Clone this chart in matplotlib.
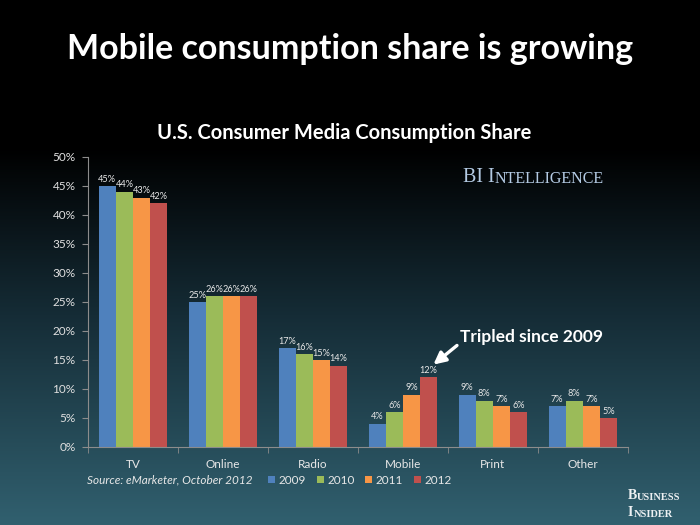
import matplotlib.pyplot as plt
import numpy as np
from matplotlib.colors import LinearSegmentedColormap

categories = ["TV", "Online", "Radio", "Mobile", "Print", "Other"]
years = ["2009", "2010", "2011", "2012"]
share_2009 = [45, 25, 17, 4, 9, 7]
share_2010 = [44, 26, 16, 6, 8, 8]
share_2011 = [43, 26, 15, 9, 7, 7]
share_2012 = [42, 26, 14, 12, 6, 5]
y_ticks = [0, 5, 10, 15, 20, 25, 30, 35, 40, 45, 50]

series = [share_2009, share_2010, share_2011, share_2012]
colors = ["#4f81bd", "#9bbb59", "#f79646", "#c0504d"]

plt.rcParams['font.family'] = ['Lato', 'DejaVu Sans']


def small_caps(owner, x, y, parts, color, weight='normal'):
    # fake small caps by chaining text pieces of two sizes
    prev = owner.text(x, y, parts[0][0], fontsize=parts[0][1], color=color,
                      family='Liberation Serif', fontweight=weight,
                      va='bottom', ha='left', transform=owner.transAxes)
    for txt, size in parts[1:]:
        prev = owner.annotate(txt, xy=(1, 0), xycoords=prev, fontsize=size,
                              color=color, family='Liberation Serif',
                              fontweight=weight, va='bottom', ha='left')
    return prev


fig = plt.figure(figsize=(7, 5.25), dpi=100)

# background gradient
bg = fig.add_axes([0, 0, 1, 1], zorder=-10)
bg.axis('off')
cmap = LinearSegmentedColormap.from_list(
    'bg', [(0, '#000000'), (0.28, '#000000'), (0.6, '#152c36'), (1, '#31606f')])
grad = np.linspace(0, 1, 256).reshape(-1, 1)
bg.imshow(grad, aspect='auto', cmap=cmap, extent=[0, 1, 0, 1], origin='upper')
bg.set_xlim(0, 1)
bg.set_ylim(0, 1)

ax = fig.add_axes([0.1257, 0.1486, 0.771, 0.5524])
ax.set_facecolor('none')

x = np.arange(len(categories))
width = 0.19
bars = []
for i, (vals, c) in enumerate(zip(series, colors)):
    pos = x + (i - 1.5) * width
    b = ax.bar(pos, vals, width, color=c, zorder=2)
    bars.append(b)
    for px, v in zip(pos, vals):
        ax.text(px, v + 0.4, f"{v}%", ha='center', va='bottom',
                fontsize=6.6, color='#e8e8e8')

ax.set_xlim(-0.5, 5.5)
ax.set_ylim(0, 50)
ax.set_yticks(y_ticks)
ax.set_yticklabels([f"{t}%" for t in y_ticks])
ax.set_xticks(x)
ax.set_xticklabels(categories)
ax.set_xticks(np.arange(-0.5, 6, 1), minor=True)
ax.tick_params(axis='x', which='major', length=0, pad=9, labelsize=8.5,
               labelcolor='#e8e8e8')
ax.tick_params(axis='x', which='minor', length=4, color='#8c8c8c')
ax.tick_params(axis='y', length=4, color='#8c8c8c', labelsize=8.5,
               labelcolor='#e0e0e0', pad=5)
for s in ['top', 'right']:
    ax.spines[s].set_visible(False)
for s in ['left', 'bottom']:
    ax.spines[s].set_color('#8c8c8c')

ax.annotate("Tripled since 2009", xy=(3.34, 14.2), xytext=(3.633, 19.0),
            fontsize=12.5, fontweight='bold', color='white',
            ha='left', va='center',
            arrowprops=dict(arrowstyle='-|>', color='white', lw=2.4,
                            mutation_scale=18, shrinkA=0, shrinkB=0,
                            relpos=(0, 0.1)))

ax.legend([b[0] for b in bars], years, ncol=4, loc='center left',
          bbox_to_anchor=(268 / 700, 1 - 480 / 525),
          bbox_transform=fig.transFigure, frameon=False, fontsize=8.5,
          labelcolor='#e8e8e8', handlelength=0.6, handleheight=0.6,
          handletextpad=0.3, columnspacing=0.9, borderpad=0,
          borderaxespad=0)

fig.text(87 / 700, 1 - 480 / 525, "Source: eMarketer, October 2012",
         style='italic', fontsize=8.5, color='#e8e8e8', va='center')

fig.text(0.5, 1 - 49 / 525, "Mobile consumption share is growing",
         ha='center', va='center', fontsize=24.5, fontweight='bold',
         color='white')
fig.text(344 / 700, 1 - 133 / 525, "U.S. Consumer Media Consumption Share",
         ha='center', va='center', fontsize=14.5, fontweight='bold',
         color='white')

small_caps(bg, 463 / 700, 1 - 187 / 525,
           [("BI I", 14.5), ("NTELLIGENCE", 11.5)], '#b4cbe4')
small_caps(bg, 628 / 700, 1 - 502 / 525,
           [("B", 10), ("USINESS", 7.5)], '#eef1f3', weight='bold')
small_caps(bg, 628 / 700, 1 - 519 / 525,
           [("I", 10), ("NSIDER", 7.5)], '#eef1f3', weight='bold')

fig.savefig("out.png", dpi=100, facecolor='black')
